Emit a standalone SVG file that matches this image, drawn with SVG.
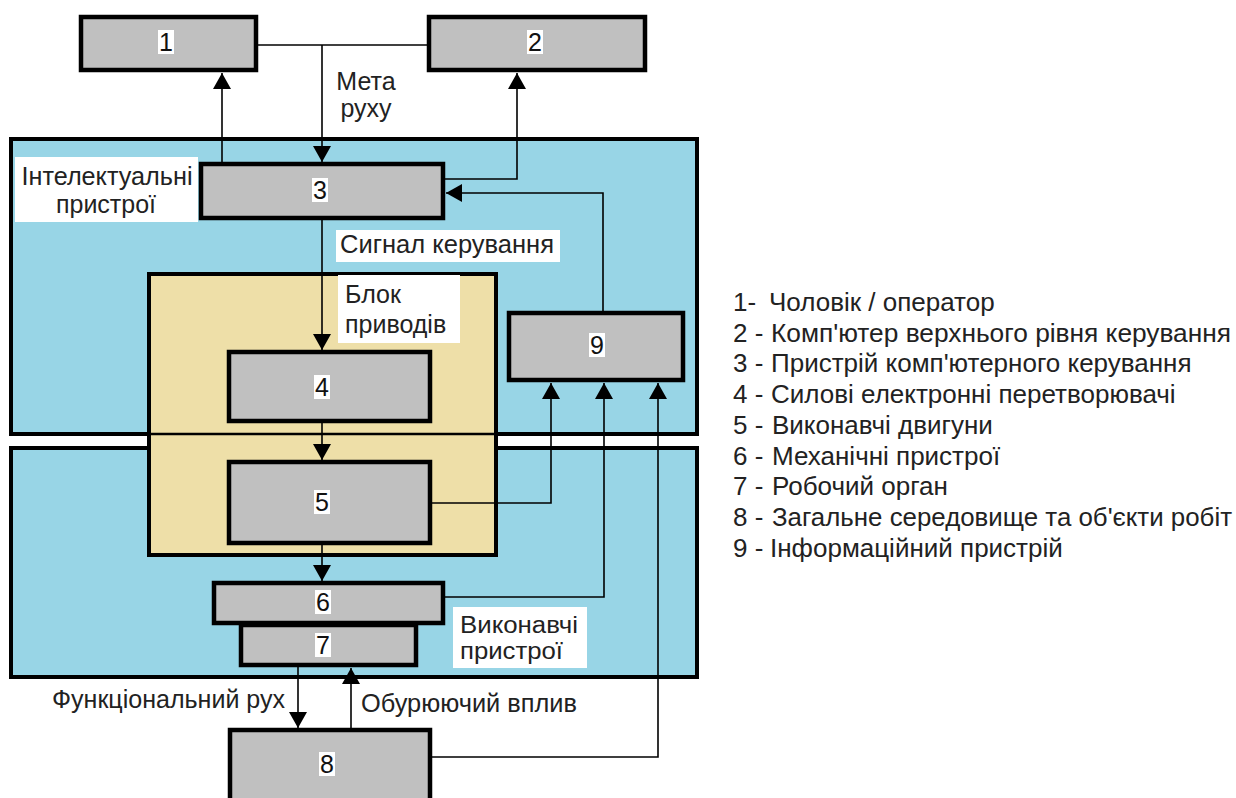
<svg xmlns="http://www.w3.org/2000/svg" width="1236" height="798" viewBox="0 0 1236 798">
<defs>
<marker id="arr" viewBox="0 0 16 18" refX="16" refY="9" markerWidth="16" markerHeight="18" orient="auto" markerUnits="userSpaceOnUse">
<path d="M0,0 L16,9 L0,18 Z" fill="#000"/>
</marker>
<style>
.region{fill:#98D5E6;stroke:#000;stroke-width:4}
.tan{fill:#EEDFA8;stroke:#000;stroke-width:4}
.box{fill:#C0C0C0;stroke:#000;stroke-width:4.5}
.num{font-family:"Liberation Sans",Arial,sans-serif;font-size:25px;fill:#111;text-anchor:middle}
.numbg{fill:#fff}
.lbl{font-family:"Liberation Sans",Arial,sans-serif;font-size:25px;fill:#222}
.lblbg{fill:#fff}
.conn path{fill:none;stroke:#000;stroke-width:1.6}
.leg{font-family:"Liberation Sans",Arial,sans-serif;font-size:26px;fill:#222}
</style>
</defs>
<rect width="1236" height="798" fill="#fff"/>

<g id="region-intellectual">
<rect class="region" x="11" y="139" width="686" height="295"/>
</g>
<g id="region-executive">
<rect class="region" x="11" y="448" width="686" height="229"/>
</g>
<g id="region-drives">
<rect class="tan" x="149" y="274" width="347" height="281"/>
<line x1="149" y1="434" x2="496" y2="434" stroke="#000" stroke-width="2.5"/>
</g>

<g class="conn" id="connectors">
<path d="M258,45 H427"/>
<path d="M322,45 V162" marker-end="url(#arr)"/>
<path d="M222,162 V73" marker-end="url(#arr)"/>
<path d="M445,179 H517 V73" marker-end="url(#arr)"/>
<path d="M603,311 V193 H446" marker-end="url(#arr)"/>
<path d="M322,220 V350" marker-end="url(#arr)"/>
<path d="M322,423 V460" marker-end="url(#arr)"/>
<path d="M322,545 V581" marker-end="url(#arr)"/>
<path d="M432,503 H551 V383" marker-end="url(#arr)"/>
<path d="M445,597 H604 V383" marker-end="url(#arr)"/>
<path d="M432,757 H658 V383" marker-end="url(#arr)"/>
<path d="M298,667 V728" marker-end="url(#arr)"/>
<path d="M351,728 V668" marker-end="url(#arr)"/>
</g>

<g id="node-1">
<rect class="box" x="81" y="17" width="175" height="53"/>
<rect class="numbg" x="158" y="30" width="16" height="24"/>
<text class="num" x="166" y="51">1</text>
</g>
<g id="node-2">
<rect class="box" x="429" y="17" width="216" height="53"/>
<rect class="numbg" x="527" y="30" width="16" height="24"/>
<text class="num" x="535" y="51">2</text>
</g>
<g id="node-3">
<rect class="box" x="201" y="164" width="242" height="54"/>
<rect class="numbg" x="312" y="178" width="16" height="24"/>
<text class="num" x="320" y="199">3</text>
</g>
<g id="node-4">
<rect class="box" x="229" y="352" width="201" height="69"/>
<rect class="numbg" x="314" y="375" width="16" height="24"/>
<text class="num" x="322" y="396">4</text>
</g>
<g id="node-5">
<rect class="box" x="229" y="462" width="201" height="81"/>
<rect class="numbg" x="314" y="490" width="16" height="24"/>
<text class="num" x="322" y="511">5</text>
</g>
<g id="node-6">
<rect class="box" x="214" y="583" width="229" height="40"/>
<rect class="numbg" x="315" y="590" width="16" height="24"/>
<text class="num" x="323" y="611">6</text>
</g>
<g id="node-7">
<rect class="box" x="241" y="625" width="175" height="40"/>
<rect class="numbg" x="315" y="633" width="16" height="24"/>
<text class="num" x="323" y="654">7</text>
</g>
<g id="node-8">
<rect class="box" x="230" y="730" width="200" height="90"/>
<rect class="numbg" x="319" y="752" width="16" height="24"/>
<text class="num" x="327" y="773">8</text>
</g>
<g id="node-9">
<rect class="box" x="509" y="313" width="174" height="67"/>
<rect class="numbg" x="589" y="333" width="16" height="24"/>
<text class="num" x="597" y="354">9</text>
</g>

<g id="label-intellectual">
<rect class="lblbg" x="15" y="157" width="183" height="65"/>
<text class="lbl" x="107" y="185" text-anchor="middle" textLength="171" lengthAdjust="spacingAndGlyphs">Інтелектуальні</text>
<text class="lbl" x="106" y="213" text-anchor="middle">пристрої</text>
</g>
<g id="label-goal">
<text class="lbl" x="366" y="90" text-anchor="middle">Мета</text>
<text class="lbl" x="366" y="117" text-anchor="middle">руху</text>
</g>
<g id="label-signal">
<rect class="lblbg" x="336" y="230" width="224" height="32"/>
<text class="lbl" x="340" y="253" textLength="214" lengthAdjust="spacingAndGlyphs">Сигнал керування</text>
</g>
<g id="label-drives">
<rect class="lblbg" x="338" y="275" width="122" height="68"/>
<text class="lbl" x="345" y="303">Блок</text>
<text class="lbl" x="345" y="333">приводів</text>
</g>
<g id="label-executive">
<rect class="lblbg" x="453" y="607" width="134" height="61"/>
<text class="lbl" x="460" y="633" style="font-size:23px" textLength="118" lengthAdjust="spacingAndGlyphs">Виконавчі</text>
<text class="lbl" x="460" y="659" style="font-size:23px" textLength="103" lengthAdjust="spacingAndGlyphs">пристрої</text>
</g>
<g id="label-functional">
<text class="lbl" x="52" y="708" textLength="233" lengthAdjust="spacingAndGlyphs">Функціональний рух</text>
</g>
<g id="label-disturb">
<text class="lbl" x="361" y="712" textLength="216" lengthAdjust="spacingAndGlyphs">Обурюючий вплив</text>
</g>

<g id="legend">
<text class="leg" x="733" y="311">1-</text><text class="leg" x="769" y="311">Чоловік / оператор</text>
<text class="leg" x="733" y="342">2 -</text><text class="leg" x="771" y="342" textLength="460" lengthAdjust="spacingAndGlyphs">Комп'ютер верхнього рівня керування</text>
<text class="leg" x="733" y="372">3 -</text><text class="leg" x="771" y="372">Пристрій комп'ютерного керування</text>
<text class="leg" x="733" y="403">4 -</text><text class="leg" x="771" y="403">Силові електронні перетворювачі</text>
<text class="leg" x="733" y="434">5 -</text><text class="leg" x="772" y="434">Виконавчі двигуни</text>
<text class="leg" x="733" y="465">6 -</text><text class="leg" x="772" y="465">Механічні пристрої</text>
<text class="leg" x="733" y="495">7 -</text><text class="leg" x="772" y="495">Робочий орган</text>
<text class="leg" x="733" y="526">8 -</text><text class="leg" x="772" y="526" textLength="460" lengthAdjust="spacingAndGlyphs">Загальне середовище та об'єкти робіт</text>
<text class="leg" x="733" y="557">9 -</text><text class="leg" x="770" y="557">Інформаційний пристрій</text>
</g>
</svg>
